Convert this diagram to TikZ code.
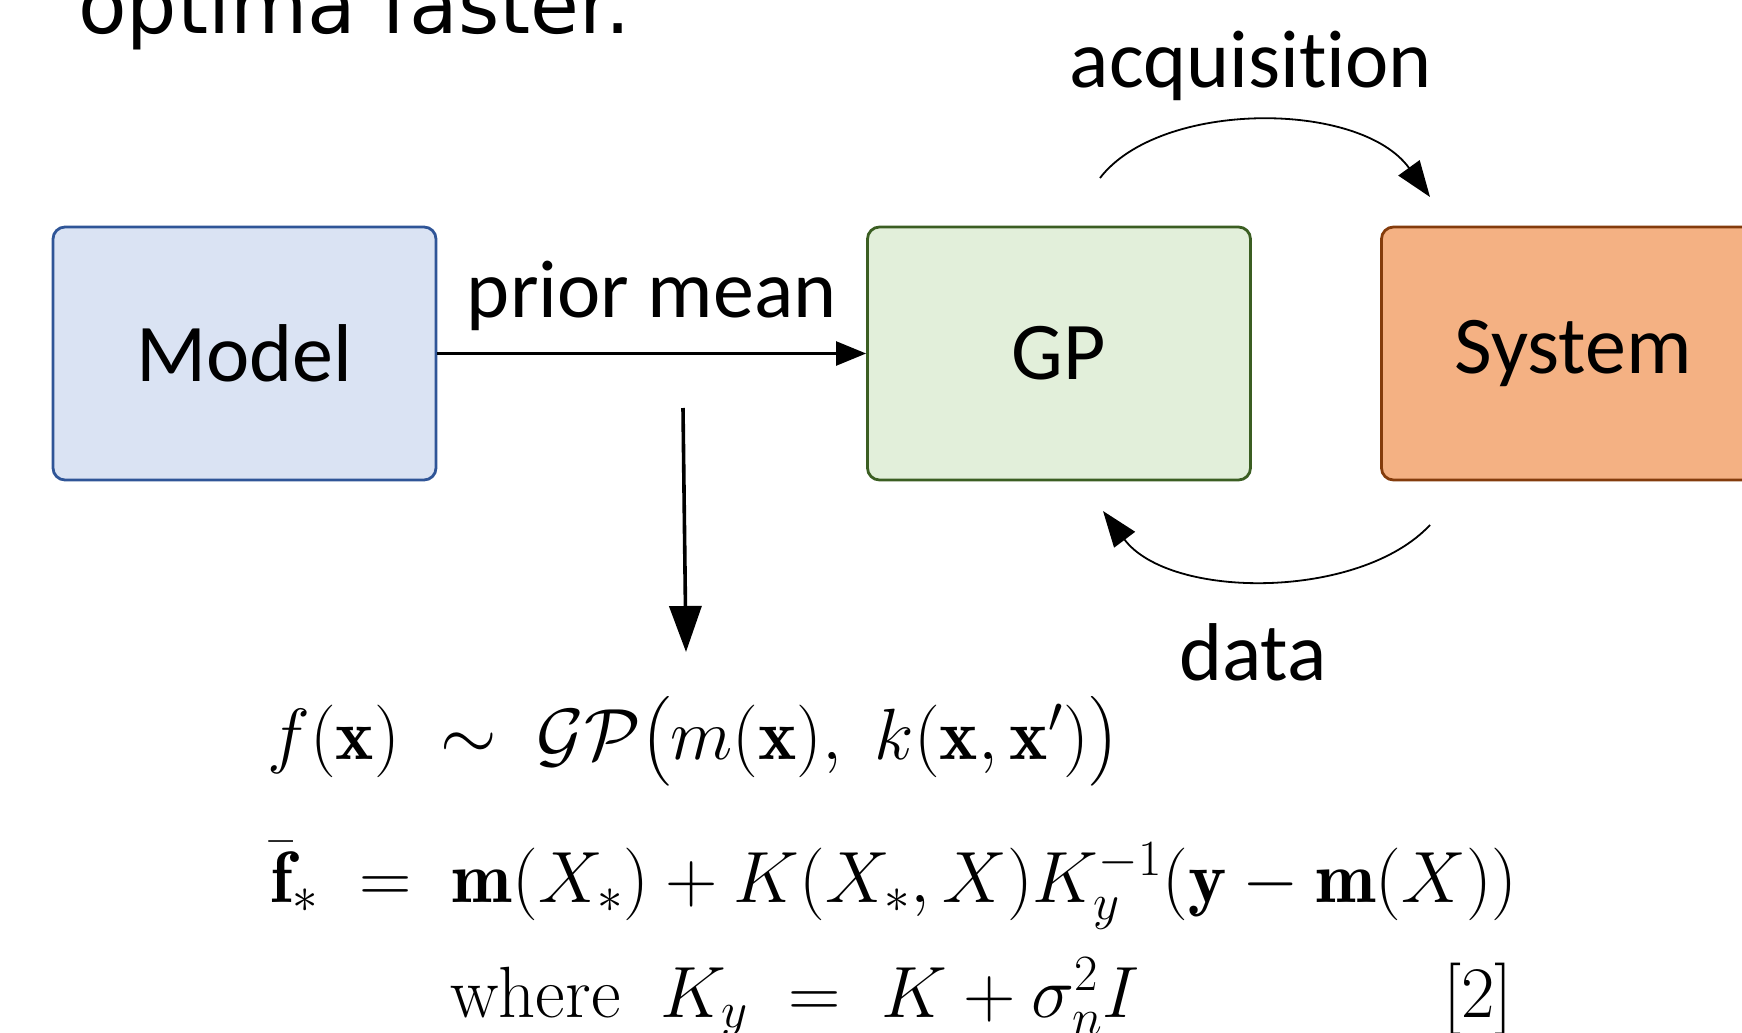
\RequirePackage{fix-cm}
\documentclass[tikz,border=0pt]{standalone}
\usepackage{amsmath}
\usepackage{fontspec}
\newfontfamily\boxfont[Ligatures=NoCommon]{Carlito}
\newfontfamily\slidefont{DejaVu Sans}
\usetikzlibrary{arrows.meta}

\definecolor{modelfill}{HTML}{DAE3F3}
\definecolor{modeldraw}{HTML}{2F5597}
\definecolor{gpfill}{HTML}{E2EFDA}
\definecolor{gpdraw}{HTML}{3B5E22}
\definecolor{sysfill}{HTML}{F4B183}
\definecolor{sysdraw}{HTML}{843C0C}

\tikzset{
  block/.style={draw, line width=1.4pt, rounded corners=6pt, inner sep=0pt,
    minimum width=191.5pt, minimum height=126.5pt,
    font=\boxfont\fontsize{41}{48}\selectfont},
  lbl/.style={inner sep=0pt, anchor=base, font=\boxfont\fontsize{41}{48}\selectfont},
  eq/.style={inner sep=0pt, anchor=base west, font=\fontsize{36.3}{43}\selectfont},
  flow/.style={-{Triangle[length=15pt,width=12pt]}, line width=1.2pt},
  down/.style={-{Triangle[length=23pt,width=16pt]}, line width=1.8pt},
  loop/.style={-{Triangle[length=18pt,width=13pt]}, line width=0.9pt}
}

\begin{document}
\begin{tikzpicture}[x=0.5pt,y=-0.5pt]
  \useasboundingbox (0,0) rectangle (1742,1033);
  \clip (0,0) rectangle (1742,1033);

  % slide text cut at the top
  \node[anchor=base west, inner sep=0pt, font=\slidefont\fontsize{39.7}{46}\selectfont]
    (caption) at (78,33) {optima faster.};

  % boxes
  \node[block, fill=modelfill, draw=modeldraw] (model) at (244.5,353.5) {Model};
  \node[block, fill=gpfill, draw=gpdraw] (gp) at (1059,353.5) {GP};
  \node[block, fill=sysfill, draw=sysdraw] (system) at (1573,353.5) {System};

  \draw[flow] (model) -- (gp) node[lbl, midway, yshift=18pt] (prior) {prior mean};

  % loop between GP and system
  \coordinate (acqS) at (1100,178);
  \coordinate (acqE) at (1430,197);
  \coordinate (dataS) at (1430,525);
  \coordinate (dataE) at (1103,511);
  \draw[loop] (acqS) .. controls (1160,100) and (1360,100) .. (acqE);
  \draw[loop] (dataS) .. controls (1360,600) and (1170,600) .. (dataE);
  \node[lbl] (acq) at (1251,87) {acquisition};
  \node[lbl] (data) at (1253,680) {data};

  % down to the equations
  \coordinate (pmtop) at (683,408);
  \coordinate (pmbot) at (686,652);
  \draw[down] (pmtop) -- (pmbot);

  \node[eq] (eqprior) at (267,759)
    {$f(\mathbf{x}) \;\sim\; \mathcal{GP}\big(m(\mathbf{x}),\; k(\mathbf{x},\mathbf{x}')\big)$};
  \node[eq] (eqmean) at (270,902)
    {$\bar{\mathbf{f}}_* \;=\; \mathbf{m}(X_*) + K(X_*,X)K_y^{-1}(\mathbf{y}-\mathbf{m}(X))$};
  \node[eq] (eqnoise) at (450,1017) {$\text{where}\;\; K_y \;=\; K + \sigma_n^2 I$};
  \node[eq, anchor=base east] (eqref) at (1513,1017) {$[2]$};
\end{tikzpicture}
\end{document}
